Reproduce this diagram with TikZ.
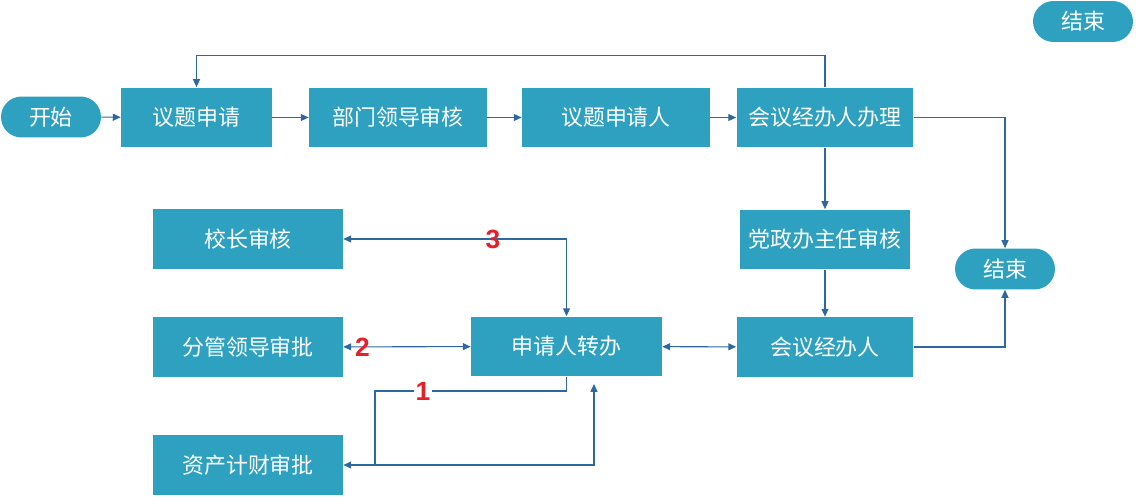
\documentclass[tikz,border=0pt]{standalone}
\usepackage{fontspec}
\newfontfamily\cjk{Noto Sans CJK SC}
\newfontfamily\numfont{Liberation Sans}
\usepackage{tikz}
\usetikzlibrary{arrows.meta}

\definecolor{boxfill}{RGB}{46,161,192}
\definecolor{linecol}{RGB}{46,104,160}
\definecolor{numred}{RGB}{230,32,40}

\begin{document}
\begin{tikzpicture}[
		x = 0.02cm, y = -0.02cm,
		box/.style = {draw = none, fill = boxfill, text = white, minimum height = 1.2cm,
			inner sep = 0pt, font = \cjk\fontsize{12.5}{14}\selectfont},
		term/.style = {box, minimum width = 2cm, minimum height = 0.82cm, rounded corners = 0.41cm},
		arr/.style = {draw = linecol, line width = 0.6pt, -{Triangle[length=4.5pt,width=4pt]}},
		arrs/.style = {arr, {Triangle[length=4.5pt,width=4pt]}-{Triangle[length=4.5pt,width=4pt]}},
		num/.style = {text = numred, inner sep = 1pt, font = \numfont\bfseries\fontsize{15}{16}\selectfont}
		]
		\useasboundingbox (0,0) rectangle (1144,497);
		
		% top row
		\node[term] (start) at (51,117) {开始};
		\node[box, minimum width = 3.02cm] (req) at (196.5,117.5) {议题申请};
		\node[box, minimum width = 3.56cm] (dept) at (398,117.5) {部门领导审核};
		\node[box, minimum width = 3.76cm] (appl) at (616,117.5) {议题申请人};
		\node[box, minimum width = 3.54cm] (handle) at (825,117.5) {会议经办人办理};
		\node[term] (endtop) at (1083,21.5) {结束};
		
		% right column
		\node[box, minimum width = 3.42cm] (party) at (825,239.5) {党政办主任审核};
		\node[box, minimum width = 3.54cm] (agent) at (825,347) {会议经办人};
		\node[term] (endmid) at (1005,269) {结束};
		
		% left column
		\node[box, minimum width = 3.8cm] (pres) at (248,239) {校长审核};
		\node[box, minimum width = 3.8cm] (lead) at (248,347) {分管领导审批};
		\node[box, minimum width = 3.8cm] (asset) at (248,465) {资产计财审批};
		\node[box, minimum width = 3.82cm] (trans) at (566.5,346.5) {申请人转办};
		
		\coordinate (split) at (375,465);
		\coordinate (back) at (594,384);
		
		% main flow
		\draw[arr] (start) -- (req);
		\draw[arr] (req) -- (dept);
		\draw[arr] (dept) -- (appl);
		\draw[arr] (appl) -- (handle);
		\draw[arr] (handle.north) -- ++(0,-32) -| (req.north);
		\draw[arr] (handle) -- (party);
		\draw[arr] (party) -- (agent);
		\draw[arr] (handle.east) -| (endmid.north);
		\draw[arr] (agent.east) -| (endmid.south);
		\draw[arrs] (trans) -- (agent);
		
		% transfer branches
		\draw[arrs] (trans.north) |- node[num, pos = 0.665] {3} (pres.east);
		\draw[arrs] (trans) -- node[num, pos = 0.85] {2} (lead);
		\draw[arr] (trans.south) |- node[num, fill = white, pos = 0.875] {1} (375,391) |- (asset.east);
		\draw[arr] (split) -| (back);
	\end{tikzpicture}
\end{document}
